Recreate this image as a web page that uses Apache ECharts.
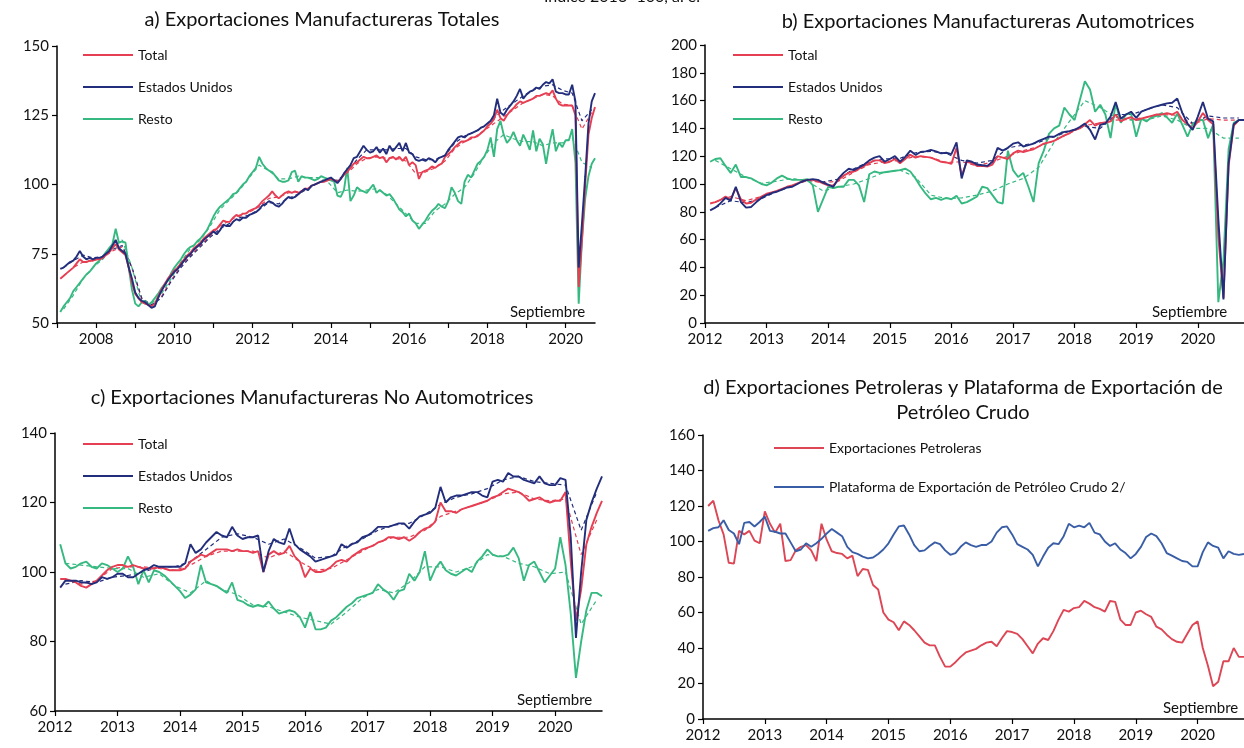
<!DOCTYPE html>
<html>
<head>
<meta charset="utf-8">
<script src="https://cdn.jsdelivr.net/npm/echarts@6/dist/echarts.min.js"></script>
<style>
  html, body { margin: 0; background: #fff; }
  #chart { width: 1244px; height: 748px; }
</style>
</head>
<body>
<div id="chart"></div>
<script>
// a) Manufactureras totales, mensual ene-2007 a sep-2020
const totalA = [
  66, 67, 68, 69, 70, 71.5, 73, 72, 72, 72.5, 72.5, 73,
  73, 73.5, 74.5, 75.5, 77, 78.5, 76.5, 75.5, 74.5, 70, 64.5, 60.5,
  59, 57.5, 57, 56.5, 56, 57, 59.5, 62, 64, 66, 67.5, 69,
  70, 71.5, 73, 74.5, 75.5, 77, 78, 79, 80.5, 81.5, 82.5, 83.5,
  84, 85.5, 87, 86.5, 86.5, 88, 89, 88.5, 89.5, 89.5, 90.5, 91,
  91.5, 92.5, 94, 95, 96, 97.5, 96, 95, 96, 97, 97.5, 97,
  97.5, 97, 97.5, 98.5, 98.5, 99.5, 100, 100.5, 101, 101, 101.5, 102,
  101.5, 101, 102, 103.5, 104.5, 106, 107.5, 108, 109, 110, 109.5, 109.5,
  110, 110.5, 109.5, 110, 108, 109.5, 110, 109, 110, 108.5, 110, 107,
  108, 107, 102, 104.5, 105, 105.5, 106.5, 106, 107, 107.5, 110, 111,
  112, 113.5, 114.5, 115.5, 115.5, 116, 117, 117, 117.5, 118.5, 119.5, 121,
  122, 123.5, 127, 124, 123, 125, 126.5, 127.5, 129, 130, 129.5, 130,
  130.5, 131, 132, 132, 132.5, 133, 132.5, 134, 131, 129, 128.5, 128.5,
  128.5, 128.5, 125, 63, 80, 100, 118, 124, 128
];
const eeuuA = [
  69.5, 70, 71, 72, 72.5, 74, 76, 74, 73, 73.5, 73, 73.5,
  73.5, 74, 75, 76, 78, 80, 77, 76, 75, 70, 66, 61,
  59, 58, 57.5, 56.5, 55.5, 56, 59, 61.5, 63.5, 65.5, 67, 68.5,
  69.5, 71, 72.5, 74, 75, 76.5, 77.5, 78.5, 80, 81, 82, 83,
  82, 83.5, 85.5, 85, 85, 86.5, 87.5, 87, 88, 88, 89, 89.5,
  90, 91, 92.5, 93, 94, 93.5, 92.5, 92, 93, 94.5, 95.5, 95,
  95.5, 96.5, 97.5, 98.5, 98, 99.5, 100, 100.5, 101, 101.5, 102, 102.5,
  101.5, 100.5, 102, 104, 105.5, 107, 109.5, 110, 112, 114, 112.5, 111.5,
  112, 113.5, 111.5, 113, 111, 114, 112, 113.5, 115, 112, 115, 111.5,
  111, 109, 108.5, 109, 108.5, 109.5, 109, 108, 109.5, 110, 110.5, 112.5,
  114, 115.5, 117, 117.5, 117, 118, 118.5, 119, 119.5, 120.5, 121, 122,
  123, 125, 131, 126, 125, 127, 128.5, 130, 132, 134.5, 131, 132.5,
  133.5, 134, 135, 134.5, 136, 137, 136.5, 138, 133.5, 133, 133, 132.5,
  132.5, 136, 130, 70, 86, 103, 122, 130, 133
];
const restoA = [
  54, 56, 57.5, 59, 61.5, 63, 64.5, 66, 67.5, 68.5, 70, 71.5,
  72.5, 74, 75.5, 77, 78.5, 84, 79, 79.5, 79, 70, 62, 57,
  56, 57.5, 58, 56.5, 57.5, 59, 60.5, 62.5, 64, 65.5, 68, 70,
  71.5, 73, 75, 76.5, 77.5, 78, 79.5, 80.5, 82, 83.5, 86, 88.5,
  90.5, 92, 93, 94, 95, 96.5, 97, 98.5, 100, 101, 103, 104.5,
  106, 110, 107.5, 106, 105, 104.5, 103, 101.5, 101, 101, 101.5, 104.5,
  105, 101, 103, 102.5, 102.5, 102, 101.5, 102, 103, 102.5, 102, 101.5,
  101, 96, 95.5, 98, 106, 94, 96, 99, 98, 97.5, 97, 98.5,
  100, 97, 98, 97, 96, 96.5, 95, 93, 91, 90, 88.5, 89.5,
  87, 86, 84, 85.5, 87, 89, 90.5, 91.5, 93, 92, 91.5, 94,
  99, 97, 94, 93, 101, 103.5, 102.5, 105, 107.5, 108.5, 110, 112.5,
  117, 110, 120, 123, 118, 115, 116.5, 119, 116, 114, 118, 115.5,
  112.5, 119.5, 112, 116.5, 114.5, 107.5, 114.5, 120, 112, 115, 113.5, 116,
  116, 120, 108, 57, 80, 95, 103, 107.5, 109.5
];
// tendencias trimestrales (lineas punteadas)
const totalATend = [
  67, 70, 72, 72.5, 73.5, 76, 77.5, 70, 58.5, 56.5, 59.5, 65.5,
  70.5, 74.5, 78, 81.5, 85, 87, 89, 90, 92, 95, 95.5, 97,
  97.5, 98.5, 100.5, 101.5, 101.5, 104, 107.5, 109.5, 110, 109.5, 109.5, 108.5,
  104, 104.5, 106, 108.5, 113, 115.5, 117, 119.5, 122, 124.5, 127, 129.5,
  131, 132.5, 132, 129, 128.5, 120, 126
];
const eeuuATend = [
  70, 72.5, 74.5, 73.5, 74, 76.5, 78, 70, 59, 56.5, 59, 65,
  70, 74, 77.5, 81, 84, 86, 88, 89, 91, 93.5, 93, 95,
  96.5, 98.5, 100.5, 101.5, 101.5, 104.5, 109, 112.5, 112.5, 112.5, 113, 113,
  110, 109, 109, 110.5, 115, 117.5, 119, 121, 124, 127, 129.5, 132,
  134, 135.5, 136, 134, 133, 123, 127
];
const restoATend = [
  55, 60, 66, 70, 73, 77, 80, 70, 57, 57, 60.5, 66,
  72, 77, 80, 85, 91, 94.5, 98, 102.5, 107, 105, 102, 102,
  103, 102.5, 102.5, 101, 97, 98, 97.5, 98, 98.5, 96.5, 93, 89.5,
  86, 86, 90.5, 93, 96.5, 99, 104, 110, 115, 118, 116.5, 115.5,
  115.5, 114, 115, 115, 117, 108, 106
];

// b) Automotrices, mensual ene-2012 a sep-2020
const totalB = [
  86, 87, 88.5, 91, 89, 97, 89, 86, 86.5, 89, 91, 93,
  94, 95, 96.5, 98, 99, 100.5, 102, 103, 103, 102, 100.5, 99,
  99, 103, 106, 108, 109, 111, 113, 115, 117, 117, 115, 116,
  118, 115, 118, 121, 119, 120, 119.5, 119, 117.5, 116, 115.5, 114.5,
  126, 106, 116, 115, 113, 113, 112.5, 114, 120, 119, 118, 122,
  124, 123, 124, 125, 127, 129, 130, 131, 133, 135, 136.5, 139,
  140, 143, 146, 142, 144, 144, 145, 150, 145, 147, 148, 146,
  147, 148, 149, 150, 150, 151, 150, 152, 146, 143, 140, 145,
  151, 146, 143, 62, 18, 113, 142, 146, 146
];
const eeuuB = [
  81, 83, 86, 90, 88, 98, 87, 83, 83.5, 87, 90, 92,
  93.5, 94.5, 96, 97.5, 98, 100, 102, 103, 103.5, 103, 101, 99.5,
  98, 104, 108, 111, 110, 112, 114, 117, 119, 120, 116, 118,
  120, 116, 119.5, 124, 121, 123, 123.5, 124.5, 123.5, 122, 122.5, 121.5,
  130, 104, 117, 116, 114, 113.5, 113, 116, 126, 124, 126, 129,
  130, 127, 128, 129, 131, 132.5, 134, 134, 136, 137.5, 138, 139,
  141, 143.5, 139, 132, 142.5, 143.5, 148.5, 159, 147, 150, 152, 147.5,
  152, 153.5, 155, 156, 157, 158, 158.5, 161.5, 151, 143.5, 139, 148.5,
  159, 147, 145, 75, 17, 115, 143, 146, 146
];
const restoB = [
  116, 118, 118.5, 113, 108, 114, 105, 105, 104, 102, 100, 99,
  101, 104, 106, 104, 103, 103, 103, 103.5, 99, 80, 89, 98,
  97, 98, 98, 103, 103, 99, 87, 107, 109, 108, 108.5, 109,
  109.5, 110, 111, 109, 104, 98, 93, 89, 90, 88.5, 90, 89,
  91.5, 86, 87, 89, 91, 98, 97, 92, 87, 86, 124, 110,
  105, 108, 98, 87, 115, 124, 136, 140, 142, 155, 150, 146,
  160, 174, 168, 152, 157, 150, 133, 158, 144, 150, 151, 134,
  147, 145, 148, 149, 151, 148, 144, 150.5, 142.5, 134, 143, 146,
  146, 133, 143, 15, 45, 125, 144, 146, 146
];
const totalBTend = [
  87, 91, 88, 91, 95, 99, 102.5, 101, 102, 108.5, 114, 116,
  117, 120, 119, 115.5, 116, 113, 116, 120, 124, 127, 131, 136.5,
  142, 144, 146, 146.5, 148, 150, 149.5, 143, 147, 146, 146
];
const eeuuBTend = [
  83, 88, 86.5, 89.5, 94.5, 98.5, 103, 101.5, 103.5, 111, 116, 118,
  118.5, 122.5, 123.5, 122, 117, 115, 117, 126, 128, 130, 134, 138,
  141.5, 140, 150, 150, 153.5, 157, 155, 143.5, 149, 147.5, 147.5
];
const restoBTend = [
  117, 111, 105, 100.5, 102, 104, 102, 95, 98, 100, 104, 108.5,
  110, 105, 92, 89.5, 90, 92, 95, 100, 104, 112, 130, 145,
  160, 155, 148, 146, 146, 149, 146, 140, 140, 133, 133
];

// c) No automotrices, mensual ene-2012 a sep-2020
const totalC = [
  98, 98, 97.5, 97, 96, 95.5, 96.5, 97.5, 99, 100.5, 101.5, 102,
  102, 101.5, 102, 101.5, 101, 101, 101, 101.5, 101, 100.5, 100.5, 100.5,
  101, 103, 104, 105, 104.5, 105.5, 106.5, 106.5, 106.5, 106, 106.5, 106,
  106, 105.5, 106, 100, 105, 106, 105, 105.5, 107.5, 104.5, 103, 98.5,
  101, 100, 100, 100.5, 101.5, 103, 103.5, 103, 104.5, 105.5, 106.5, 107,
  107.5, 108.5, 109, 110, 110, 109.5, 110, 109, 110, 111.5, 112.5, 113,
  114.5, 120, 117.5, 117.5, 117, 118, 118.5, 119, 119.5, 120, 120.5, 121.5,
  122, 123, 124, 123.5, 123, 122, 120.5, 121, 121.5, 120.5, 120, 120.5,
  120.5, 123, 103, 86, 95, 108, 113, 117, 120.5
];
const eeuuC = [
  95.5, 97.5, 97.5, 97.5, 97, 97, 96.5, 97, 98.5, 98, 98.5, 99.5,
  99.5, 98.5, 98.5, 99.5, 100.5, 101, 102, 101.5, 101.5, 101.5, 101.5, 101.5,
  102.5, 108, 105.5, 106.5, 108.5, 110, 111.5, 110.5, 110, 113, 110.5, 109.5,
  110, 110, 110.5, 100, 106, 109.5, 108.5, 108, 112.5, 108, 106.5, 105.5,
  104.5, 103, 103.5, 104, 104.5, 105, 108, 107, 108, 108.5, 110, 110.5,
  111.5, 113, 113, 113, 113.5, 114, 114, 112.5, 114.5, 116, 116.5, 117,
  118.5, 124.5, 120, 121.5, 122, 122, 122.5, 123, 123, 122, 121.5, 126,
  126.5, 126, 128.5, 127.5, 127.5, 126.5, 126, 125.5, 127.5, 125.5, 125, 125,
  127, 126.5, 110, 81, 100, 115, 120, 124, 127.5
];
const restoC = [
  108, 102.5, 101, 101.5, 102.5, 103, 101.5, 101, 102.5, 102, 101, 100,
  101, 104.5, 101.5, 96.5, 100.5, 97, 100.5, 100, 99, 97.5, 96, 94.5,
  92.5, 93.5, 95, 102, 97, 96.5, 96, 95, 94, 97, 92, 91.5,
  90.5, 90, 90.5, 90, 91.5, 89.5, 88, 88.5, 89, 88.5, 87, 84,
  88.5, 83.5, 83.5, 84, 86, 87, 88.5, 90, 91, 92.5, 93, 93.5,
  94, 96.5, 95, 94, 92, 94.5, 95, 99.5, 97.5, 100, 106, 97.5,
  101, 103, 100.5, 99.5, 99, 100, 101, 100, 103, 104.5, 106.5, 105,
  104.5, 104.5, 105, 107, 104, 97.5, 102, 103, 100, 97, 99, 101,
  110, 102, 88, 69.5, 80, 89, 94, 94, 93
];
const totalCTend = [
  98, 96.5, 97.5, 101, 101.5, 101.5, 101, 100.5, 102, 104.5, 106, 106,
  106, 104, 106, 103, 100.5, 101, 103.5, 106, 108.5, 110, 110, 112,
  116, 117.5, 119, 120.5, 122.5, 123, 121, 120.5, 121, 105, 115
];
const eeuuCTend = [
  96.5, 97.5, 97, 98.5, 99, 100, 101.5, 101.5, 103, 106.5, 110, 111,
  110, 108, 109.5, 107, 104, 104.5, 107.5, 109.5, 112, 113.5, 114, 116.5,
  119.5, 121.5, 122.5, 124, 126.5, 127.5, 126, 125.5, 125, 112, 123
];
const restoCTend = [
  102.5, 102, 101.5, 101, 101, 98.5, 99.5, 96, 94, 97.5, 95, 93.5,
  90.5, 90, 88.5, 87, 86, 85, 88.5, 92.5, 95, 94, 97, 101.5,
  101.5, 100, 101.5, 105, 104.5, 102.5, 101.5, 99.5, 100, 85, 92
];

// d) Petroleras y plataforma, mensual ene-2012 a sep-2020
const petroleras = [
  120, 123, 112, 104, 88, 87.5, 106, 104, 106, 100.5, 99, 117,
  110, 105, 110, 89, 89.5, 95, 97, 98, 95, 89, 110, 101,
  94.5, 93.5, 93, 90.5, 92, 80.5, 84.5, 84, 75.5, 73, 60, 56,
  54.5, 50, 55, 53, 50, 46.5, 43, 41.5, 41.5, 35, 29.5, 29.5,
  32, 35, 37.5, 38.5, 39.5, 41.5, 43, 43.5, 41, 45.5, 49.5, 49,
  48, 45, 41, 37, 42.5, 45.5, 44.5, 49.5, 56, 61.5, 60.5, 62.5,
  63, 66.5, 65, 63, 62, 60.5, 66.5, 66, 56, 53, 53, 60,
  61, 59, 57.5, 52, 50.5, 47.5, 45, 43.5, 43, 48, 53, 55,
  40, 30, 18.5, 21, 32.5, 32.5, 40, 35, 35
];
const plataforma = [
  106, 107.5, 108, 112, 106.5, 104.5, 98.5, 110.5, 111, 108.5, 111, 114,
  106, 105.5, 104.5, 104.5, 99.5, 94.5, 95.5, 99, 97, 99, 101.5, 104.5,
  107, 105, 103, 97, 94, 93, 91.5, 90.5, 91, 93, 95.5, 99,
  104, 108.5, 109, 104, 98, 94.5, 95, 97.5, 99.5, 98.5, 95, 92.5,
  93.5, 97, 99.5, 98, 97, 98, 98, 100, 105, 108, 108.5, 104,
  98.5, 97, 95.5, 92.5, 86, 91.5, 96.5, 99, 98.5, 103, 110, 108,
  109, 108, 110.5, 105, 104, 100, 97.5, 99, 95.5, 93.5, 90.5, 93,
  97, 102.5, 104.5, 103, 99, 93.5, 92, 90.5, 89, 88.5, 86, 86,
  94, 99.5, 97.5, 96.5, 90.5, 94.5, 93, 92.5, 93
];

// años con marca en el eje x y años con etiqueta
const marcasA = [2007, 2008, 2009, 2010, 2011, 2012, 2013, 2014, 2015, 2016, 2017, 2018, 2019, 2020];
const etiquetasA = [2008, 2010, 2012, 2014, 2016, 2018, 2020];
const marcasBCD = [2012, 2013, 2014, 2015, 2016, 2017, 2018, 2019, 2020];

const rojo = '#E63E52';
const azul = '#222E7C';
const verde = '#36B980';
const fuente = 'Lato';

// el dato de cada mes se ubica al cierre del mes
function mensual(vals, y0) {
  return vals.map((v, i) => [y0 + (i + 1) / 12, v]);
}
function trimestral(vals, y0) {
  return vals.map((v, i) => [y0 + (3 * i + 2) / 12, v]);
}

function linea(name, data, color, g, punteada) {
  return {
    type: 'line', name: name, data: data,
    xAxisIndex: g, yAxisIndex: g,
    symbol: 'none', silent: true,
    lineStyle: { color: color, width: punteada ? 1.2 : 1.9, type: punteada ? [4, 3] : 'solid' },
    itemStyle: { color: color },
    z: punteada ? 2 : 3
  };
}

function ejeX(g, min, marcas, etiquetas) {
  return {
    type: 'value', gridIndex: g, min: min, max: 2020.75,
    axisLine: { onZero: false, lineStyle: { color: '#000', width: 1.5 } },
    axisTick: { length: 5, customValues: marcas, lineStyle: { color: '#000', width: 1.2 } },
    splitLine: { show: false },
    axisLabel: {
      fontSize: 15, color: '#111', fontFamily: fuente, margin: 9,
      customValues: etiquetas,
      formatter: function (v) { return String(Math.round(v)); }
    }
  };
}

function ejeY(g, min, max, interval) {
  return {
    type: 'value', gridIndex: g, min: min, max: max, interval: interval,
    axisLine: { show: true, lineStyle: { color: '#000', width: 1.5 } },
    axisTick: { show: true, length: 5, lineStyle: { color: '#000', width: 1.2 } },
    splitLine: { show: false },
    axisLabel: { fontSize: 15, color: '#111', fontFamily: fuente, margin: 8 }
  };
}

function leyenda(left, top, nombres, gap) {
  return {
    orient: 'vertical', left: left, top: top, padding: 0,
    itemWidth: 50, itemHeight: 14, itemGap: gap,
    data: nombres,
    selectedMode: false,
    itemStyle: { color: 'rgba(0,0,0,0)', borderWidth: 0, opacity: 0 },
    lineStyle: { width: 2 },
    textStyle: { fontSize: 14, color: '#111', fontFamily: fuente }
  };
}

function texto(text, x, y, size, align) {
  return {
    type: 'text', x: x, y: y,
    style: {
      text: text, font: size + 'px Lato', fill: '#111',
      textAlign: align || 'center', textVerticalAlign: 'middle', lineHeight: 26
    }
  };
}

const chart = echarts.init(document.getElementById('chart'));
const nombres = ['Total', 'Estados Unidos', 'Resto'];

const option = {
  animation: false,
  backgroundColor: '#fff',
  legend: [
    leyenda(82, 48, nombres, 18),
    leyenda(732, 48, nombres, 18),
    leyenda(82, 437, nombres, 18),
    leyenda(773, 441, ['Exportaciones Petroleras', 'Plataforma de Exportación de Petróleo Crudo 2/'], 25)
  ],
  grid: [
    { left: 57, top: 46, width: 538, height: 277 },
    { left: 705, top: 45, width: 539, height: 278 },
    { left: 55, top: 433, width: 547, height: 278 },
    { left: 703, top: 435, width: 541, height: 284 }
  ],
  xAxis: [
    ejeX(0, 2007, marcasA, etiquetasA),
    ejeX(1, 2012, marcasBCD, marcasBCD),
    ejeX(2, 2012, marcasBCD, marcasBCD),
    ejeX(3, 2012, marcasBCD, marcasBCD)
  ],
  yAxis: [ejeY(0, 50, 150, 25), ejeY(1, 0, 200, 20), ejeY(2, 60, 140, 20), ejeY(3, 0, 160, 20)],
  graphic: {
    elements: [
      texto('Índice 2013=100, a. e.', 622, -3, 16),
      texto('a) Exportaciones Manufactureras Totales', 322, 20, 20),
      texto('b) Exportaciones Manufactureras Automotrices', 988, 22, 20),
      texto('c) Exportaciones Manufactureras No Automotrices', 312, 398, 20),
      texto('d) Exportaciones Petroleras y Plataforma de Exportación de', 963, 388, 20),
      texto('Petróleo Crudo', 963, 413, 20),
      texto('Septiembre', 510, 312, 15, 'left'),
      texto('Septiembre', 1152, 312, 15, 'left'),
      texto('Septiembre', 517, 700, 15, 'left'),
      texto('Septiembre', 1163, 708, 15, 'left')
    ]
  },
  series: [
    linea('Total tendencia a', trimestral(totalATend, 2007), rojo, 0, true),
    linea('EEUU tendencia a', trimestral(eeuuATend, 2007), azul, 0, true),
    linea('Resto tendencia a', trimestral(restoATend, 2007), verde, 0, true),
    linea('Resto', mensual(restoA, 2007), verde, 0),
    linea('Total', mensual(totalA, 2007), rojo, 0),
    linea('Estados Unidos', mensual(eeuuA, 2007), azul, 0),

    linea('Total tendencia b', trimestral(totalBTend, 2012), rojo, 1, true),
    linea('EEUU tendencia b', trimestral(eeuuBTend, 2012), azul, 1, true),
    linea('Resto tendencia b', trimestral(restoBTend, 2012), verde, 1, true),
    linea('Resto', mensual(restoB, 2012), verde, 1),
    linea('Total', mensual(totalB, 2012), rojo, 1),
    linea('Estados Unidos', mensual(eeuuB, 2012), azul, 1),

    linea('Total tendencia c', trimestral(totalCTend, 2012), rojo, 2, true),
    linea('EEUU tendencia c', trimestral(eeuuCTend, 2012), azul, 2, true),
    linea('Resto tendencia c', trimestral(restoCTend, 2012), verde, 2, true),
    linea('Resto', mensual(restoC, 2012), verde, 2),
    linea('Total', mensual(totalC, 2012), rojo, 2),
    linea('Estados Unidos', mensual(eeuuC, 2012), azul, 2),

    linea('Exportaciones Petroleras', mensual(petroleras, 2012), '#DC4655', 3),
    linea('Plataforma de Exportación de Petróleo Crudo 2/', mensual(plataforma, 2012), '#3A5EA6', 3)
  ]
};

chart.setOption(option);
</script>
</body>
</html>
